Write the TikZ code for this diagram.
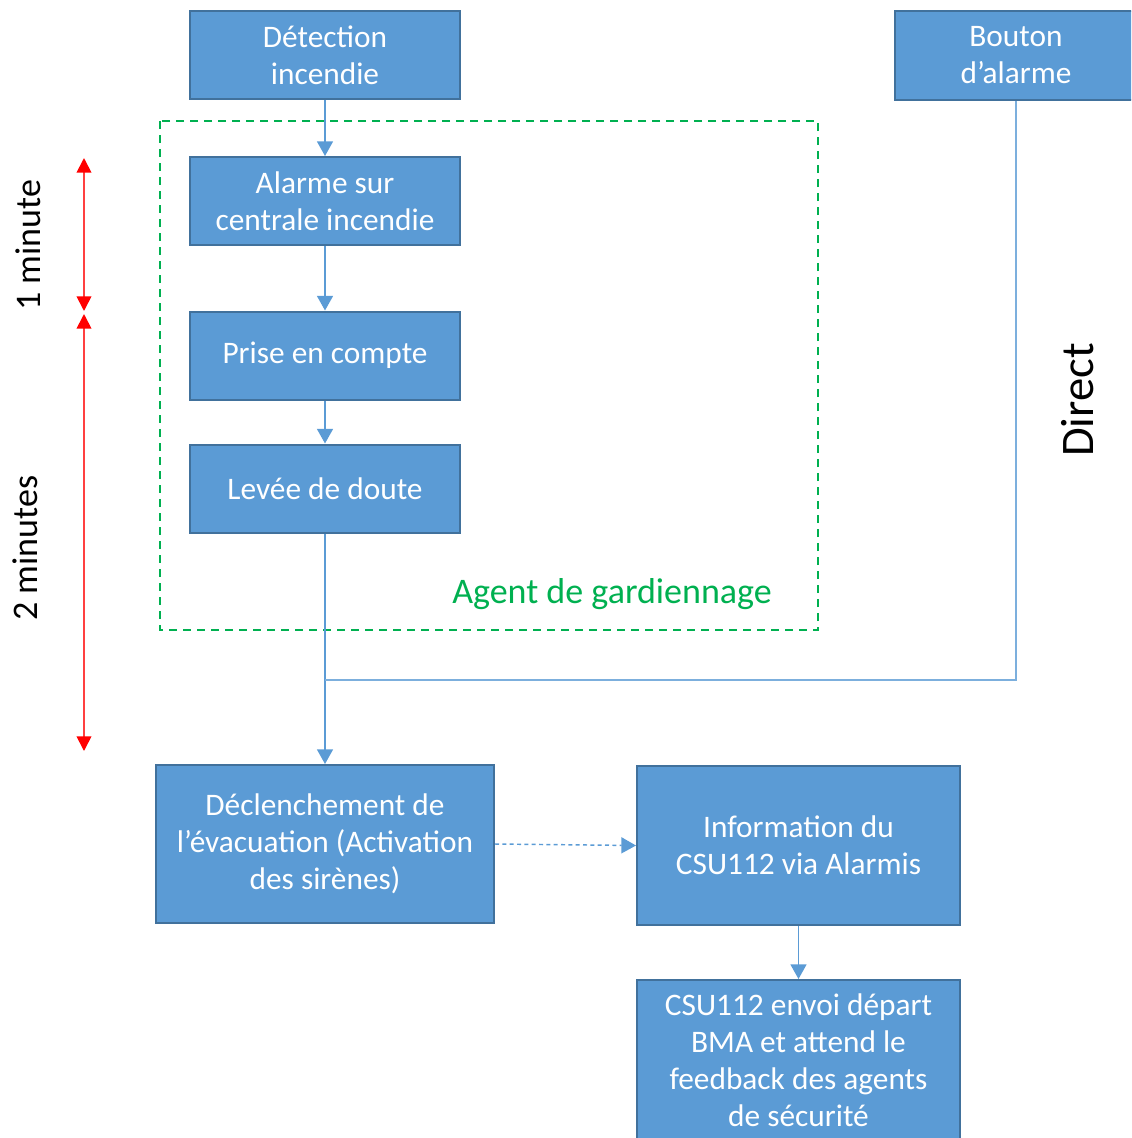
\documentclass[tikz,border=0pt]{standalone}
\usepackage{fontspec}
\setmainfont{Carlito}
\usetikzlibrary{arrows.meta}
\definecolor{boxfill}{RGB}{91,155,213}
\definecolor{boxborder}{RGB}{65,113,156}
\definecolor{linkblue}{RGB}{91,155,213}
\definecolor{agentgreen}{RGB}{0,176,80}
\definecolor{timered}{RGB}{255,0,0}
\tikzset{
  box/.style={draw=boxborder, fill=boxfill, text=white, line width=1.5pt,
    align=center, inner sep=0pt, font=\fontsize{23.5}{27.75}\selectfont},
  link/.style={draw=linkblue, line width=1.1pt},
  linkarrow/.style={link, -{Triangle[width=12pt,length=11pt]}},
  timearrow/.style={draw=timered!75, line width=1.3pt,
    {Triangle[width=11pt,length=11pt,color=timered]}-{Triangle[width=11pt,length=11pt,color=timered]}},
  sidelabel/.style={rotate=90, font=\fontsize{27}{32}\selectfont}
}
\begin{document}
\begin{tikzpicture}[x=0.75pt,y=-0.75pt]
\useasboundingbox (0,0) rectangle (1131,1138);
\clip (0,0) rectangle (1131,1138);
% group frame
\draw[agentgreen, line width=1.5pt, dash pattern=on 6pt off 4.5pt] (160,121) rectangle (818,630);
\node[text=agentgreen, font=\fontsize{27}{32}\selectfont] (agent) at (612,594) {Agent de gardiennage};
% boxes
\node[box, minimum width=202.5pt, minimum height=66pt] (detect) at (325,55) {Détection\\incendie};
\node[box, minimum width=181.5pt, minimum height=66.75pt] (bouton) at (1016,55.5) {Bouton\\d’alarme};
\node[box, minimum width=202.5pt, minimum height=66pt] (alarme) at (325,201) {Alarme sur\\centrale incendie};
\node[box, minimum width=202.5pt, minimum height=66pt] (prise) at (325,355.5) {\raisebox{-2pt}{Prise en compte}};
\node[box, minimum width=202.5pt, minimum height=66pt] (levee) at (325,488.5) {Levée de doute};
\node[box, minimum width=253.5pt, minimum height=118.5pt] (declench) at (325,844) {Déclenchement de\\l’évacuation (Activation\\des sirènes)};
\node[box, minimum width=242.25pt, minimum height=119.25pt] (info) at (798.5,845.5) {Information du\\CSU112 via Alarmis};
\node[box, minimum width=242.25pt, minimum height=120pt] (csu) at (798.5,1060) {CSU112 envoi départ\\BMA et attend le\\feedback des agents\\de sécurité};
% connectors
\draw[linkarrow] (detect) -- (alarme);
\draw[linkarrow] (alarme) -- (prise);
\draw[linkarrow] (prise) -- (levee);
\draw[linkarrow] (levee) -- (declench);
\coordinate (join) at (325,680);
\draw[link, draw=linkblue!80] (bouton.south) |- (join);
\draw[linkarrow, dash pattern=on 3pt off 2.5pt] (declench.east) -- (info.west);
\draw[linkarrow] (info) -- (csu);
% time arrows
\coordinate (t0) at (84,158);
\coordinate (t1) at (84,311);
\coordinate (t2) at (84,314);
\coordinate (t3) at (84,751);
\draw[timearrow] (t0) -- (t1);
\draw[timearrow] (t2) -- (t3);
\node[sidelabel] (onemin) at (28,245) {1 minute};
\node[sidelabel] (twomin) at (25,548) {2 minutes};
\node[rotate=90, font=\fontsize{35}{40}\selectfont] (direct) at (1078,400) {Direct};
\end{tikzpicture}
\end{document}
